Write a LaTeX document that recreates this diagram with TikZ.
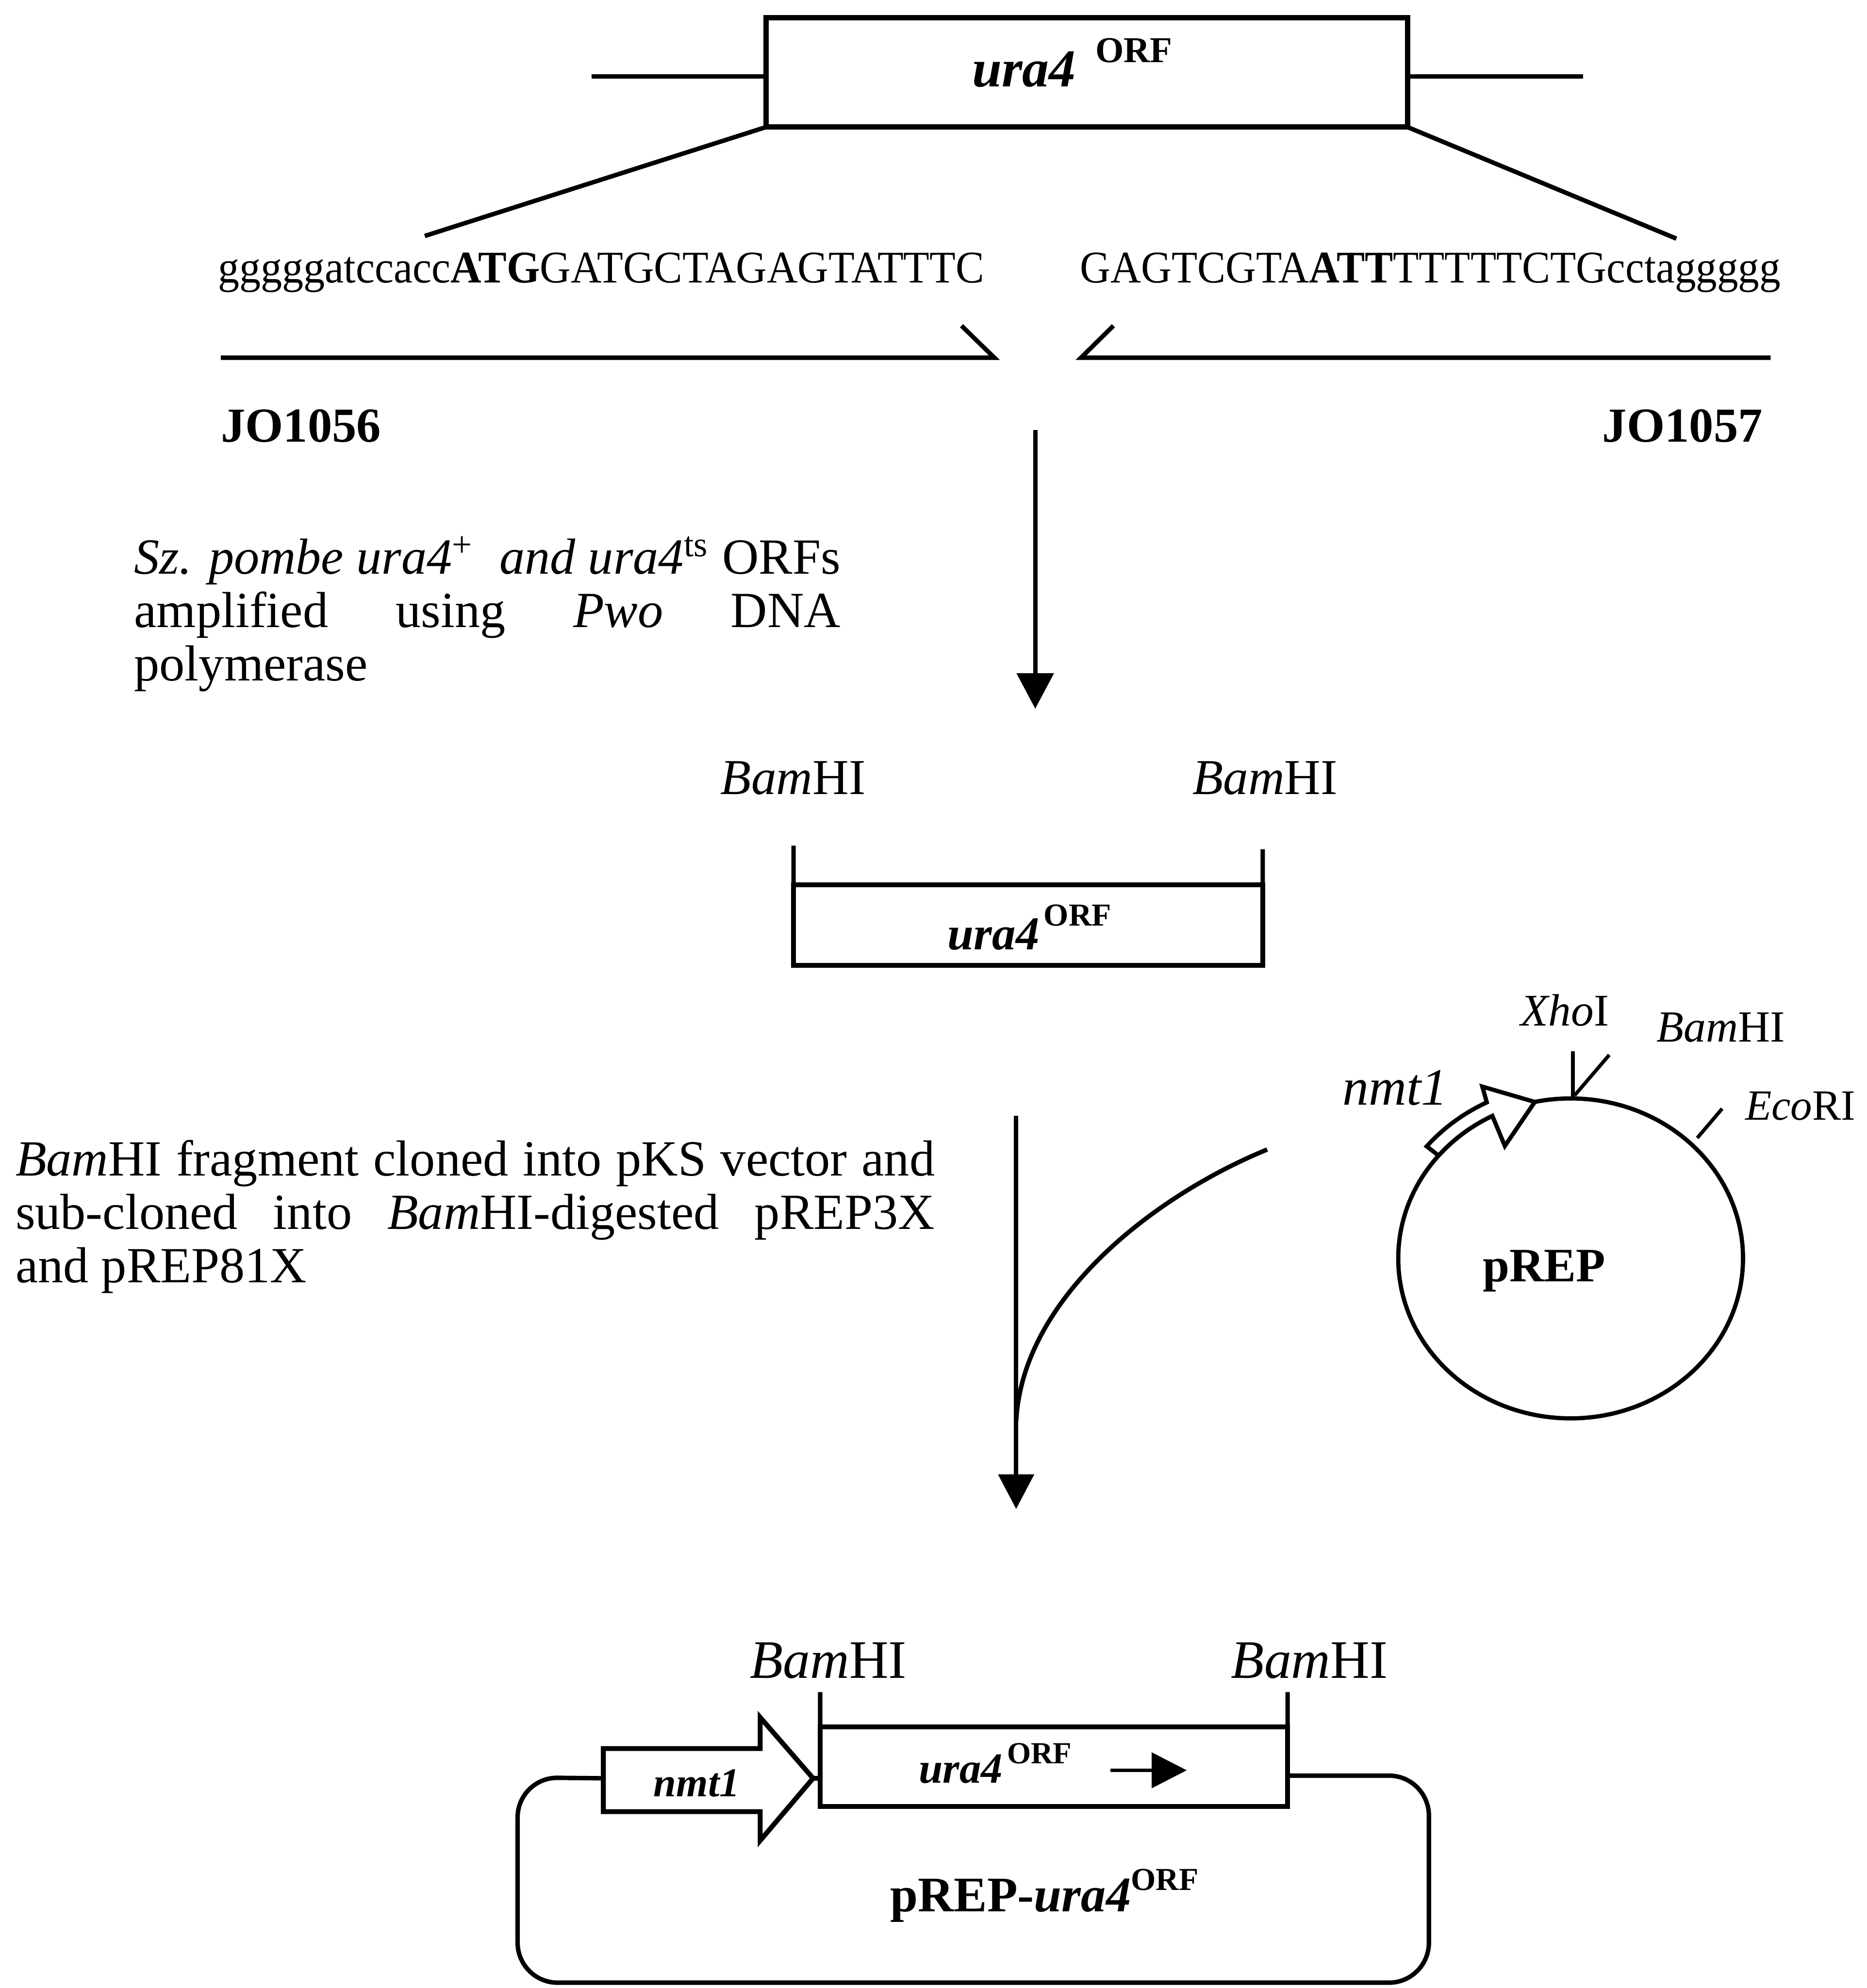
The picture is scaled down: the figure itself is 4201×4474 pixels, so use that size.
\documentclass[tikz,border=0pt]{standalone}
\usepackage{fontspec}
\setmainfont{Liberation Serif}
\usepackage{graphicx}
\usetikzlibrary{arrows.meta,shapes.geometric}
\newcommand\setfs[1]{\fontsize{#1}{#1}\selectfont}
\begin{document}
\begin{tikzpicture}[x=0.1pt,y=-0.1pt,
  thinline/.style={line width=1pt},
  lbl/.style={inner sep=0pt, outer sep=0pt},
  dnabox/.style={draw, line width=1.1pt, inner sep=0pt, outer sep=0pt},
  bigtip/.style={-{Triangle[length=8pt,width=8.2pt]}},
  para/.style={inner sep=0pt, outer sep=0pt, align=justify}
]
\useasboundingbox (0,0) rectangle (4201,4474);

% ---------- top: gene box ----------
\node[dnabox, line width=1.2pt, minimum width=144.4pt, minimum height=24.6pt] (topbox) at (2446,163) {};
\coordinate (topL) at (1331,172);
\coordinate (topR) at (3563,172);
\draw[thinline] (topL) -- (topL -| topbox.west);
\draw[thinline] (topR -| topbox.east) -- (topR);
\node[lbl, anchor=base west] (toplabel) at (2188,195)
  {\setfs{12}\bfseries\itshape ura4\hspace{4.4pt}\raisebox{5.5pt}{\setfs{8.2}\upshape ORF}};
\coordinate (dL) at (956,531);
\coordinate (dR) at (3773,537);
\draw[thinline] (topbox.south west) -- (dL);
\draw[thinline] (topbox.south east) -- (dR);

% ---------- primer sequences ----------
\node[lbl, anchor=base west] (seqL) at (491,636)
  {\scalebox{0.943}[1]{\setfs{10.2}gggggatccacc\textbf{ATG}GATGCTAGAGTATTTC}};
\node[lbl, anchor=base west] (seqR) at (2431,636)
  {\scalebox{0.933}[1]{\setfs{10.2}GAGTCGTA\textbf{ATT}TTTTTCTGcctaggggg}};

\coordinate (p1s) at (497,805);
\coordinate (p1e) at (2238,805);
\coordinate (p1b) at (2164,733);
\draw[thinline, line join=miter] (p1s) -- (p1e) -- (p1b);
\coordinate (p2s) at (3985,805);
\coordinate (p2e) at (2433,805);
\coordinate (p2b) at (2506,733);
\draw[thinline, line join=miter] (p2s) -- (p2e) -- (p2b);

\node[lbl, anchor=base west] (jo56) at (497,995) {\setfs{11}\bfseries JO1056};
\node[lbl, anchor=base east] (jo57) at (3967,995) {\setfs{11}\bfseries JO1057};

% ---------- first arrow ----------
\coordinate (a1s) at (2330,968);
\coordinate (a1e) at (2330,1595);
\draw[thinline, bigtip] (a1s) -- (a1e);

\node[para, anchor=base west, text width=159pt] (para1) at (302,1292)
  {\fontsize{11.4}{12.9}\selectfont\tolerance=10000\emergencystretch=20pt
   \textit{Sz. pombe ura4}\textsuperscript{+}\ \ \textit{and ura4}\textsuperscript{ts} ORFs\linebreak
   amplified using \textit{Pwo} DNA\linebreak polymerase};

% ---------- PCR fragment ----------
\node[lbl, anchor=base west] (bamA) at (1622,1788) {\setfs{11.3}\textit{Bam}HI};
\node[lbl, anchor=base west] (bamB) at (2684,1788) {\setfs{11.3}\textit{Bam}HI};
\node[dnabox, minimum width=105.6pt, minimum height=18.2pt] (midbox) at (2314,2082) {};
\coordinate (tickA) at (1786,1903);
\coordinate (tickB) at (2842,1911);
\draw[thinline] (tickA) -- (midbox.north west);
\draw[thinline] (tickB) -- (midbox.north east);
\node[lbl, anchor=base west] (midlabel) at (2133,2137)
  {\setfs{10.6}\bfseries\itshape ura4\hspace{1pt}\raisebox{5.4pt}{\setfs{7.2}\upshape ORF}};

% ---------- second step text ----------
\node[para, anchor=base west, text width=206.9pt] (para2) at (35,2646)
  {\fontsize{11.4}{13}\selectfont\tolerance=10000\emergencystretch=20pt
   \textit{Bam}HI fragment cloned into pKS vector and\linebreak
   sub-cloned into \textit{Bam}HI-digested pREP3X\linebreak and pREP81X};

% ---------- pREP plasmid ----------
\node[draw, ellipse, line width=0.95pt, minimum width=77.6pt, minimum height=72pt, inner sep=0pt] (prep) at (3535,2832) {};
\node[lbl, anchor=base] (preplabel) at (3475,2884) {\setfs{10.8}\bfseries pREP};
\draw[line width=0.95pt, fill=white, line join=miter]
  plot[domain=140:117, samples=14] ({3535+388*cos(\x)},{2832-360*sin(\x)})
  -- ({3535+0.80*388*cos(118.5)},{2832-0.80*360*sin(118.5)})
  -- ({3535+388*cos(102)},{2832-360*sin(102)})
  -- ({3535+1.19*388*cos(115.5)},{2832-1.19*360*sin(115.5)})
  -- ({3535+1.09*388*cos(116.5)},{2832-1.09*360*sin(116.5)})
  -- plot[domain=116.5:140, samples=14] ({3535+1.09*388*cos(\x)},{2832-1.09*360*sin(\x)})
  -- cycle;
\coordinate (xhoA) at (3540,2366);
\coordinate (xhoB) at (3540,2469);
\draw[line width=0.8pt] (xhoA) -- (xhoB);
\coordinate (bamtA) at (3622,2374);
\coordinate (bamtB) at (3544,2465);
\draw[line width=0.8pt] (bamtA) -- (bamtB);
\coordinate (ecoA) at (3876,2495);
\coordinate (ecoB) at (3820,2561);
\draw[line width=0.8pt] (ecoA) -- (ecoB);
\node[lbl, anchor=base west] (xholbl) at (3423,2308) {\setfs{10.2}\textit{Xho}I};
\node[lbl, anchor=base west] (bamlbl) at (3729,2344) {\setfs{10}\textit{Bam}HI};
\node[lbl, anchor=base west] (ecolbl) at (3928,2520) {\setfs{9.7}\textit{Eco}RI};
\node[lbl, anchor=base west] (nmtlbl) at (3022,2487) {\setfs{11.8}\textit{nmt1}};

% ---------- second arrow with joining curve ----------
\coordinate (a2s) at (2287,2511);
\coordinate (a2e) at (2287,3396);
\draw[thinline, -{Triangle[length=7.8pt,width=7.9pt]}] (a2s) -- (a2e);
\coordinate (cs) at (2852,2587);
\coordinate (ce) at (2287,3200);
\draw[thinline] (cs) .. controls (2600,2690) and (2300,2920) .. (ce);

% ---------- final construct ----------
\node[lbl, anchor=base west] (bamC) at (1688,3776) {\setfs{12.2}\textit{Bam}HI};
\node[lbl, anchor=base west] (bamD) at (2771,3776) {\setfs{12.2}\textit{Bam}HI};
\node[dnabox, minimum width=105.2pt, minimum height=17.9pt] (finbox) at (2372,3975.5) {};
\coordinate (tickC) at (1846,3808);
\coordinate (tickD) at (2898,3808);
\draw[thinline] (tickC) -- (finbox.north west);
\draw[thinline] (tickD) -- (finbox.north east);
\node[lbl, anchor=base west] (finlabel) at (2068,4013)
  {\setfs{9.7}\bfseries\itshape ura4\hspace{1pt}\raisebox{4.4pt}{\setfs{6.9}\upshape ORF}};
\coordinate (dirA) at (2499,3984);
\coordinate (dirB) at (2671,3984);
\draw[line width=0.8pt, -{Triangle[length=7.9pt,width=7.9pt]}] (dirA) -- (dirB);

% nmt1 promoter block arrow
\coordinate (nmtTail) at (1358,4002);
\coordinate (nmtTip) at (1830,4002);
\draw[line width=1.1pt, fill=white, line join=miter]
  (1358,3935) -- (1711,3935) -- (1711,3865) -- (nmtTip) -- (1711,4142) -- (1711,4077) -- (1358,4077) -- cycle;
\node[lbl, anchor=base west] (nmtin) at (1471,4043) {\setfs{9.2}\bfseries\itshape nmt1};
\draw[thinline] (nmtTip) -- (nmtTip -| finbox.west);

\coordinate (loopNW) at (1165,4000);
\coordinate (loopSW) at (1165,4462);
\coordinate (loopSE) at (3216,4462);
\coordinate (loopNE) at (3216,3996);
\draw[thinline, rounded corners=9pt] (nmtTail) -- (loopNW) -- (loopSW) -- (loopSE) -- (loopNE) -- (loopNE -| finbox.east);
\node[lbl, anchor=base west] (finname) at (2004,4302)
  {\setfs{11.2}\bfseries pREP-\textit{ura4}\raisebox{4.8pt}{\setfs{7.2}ORF}};
\end{tikzpicture}
\end{document}
